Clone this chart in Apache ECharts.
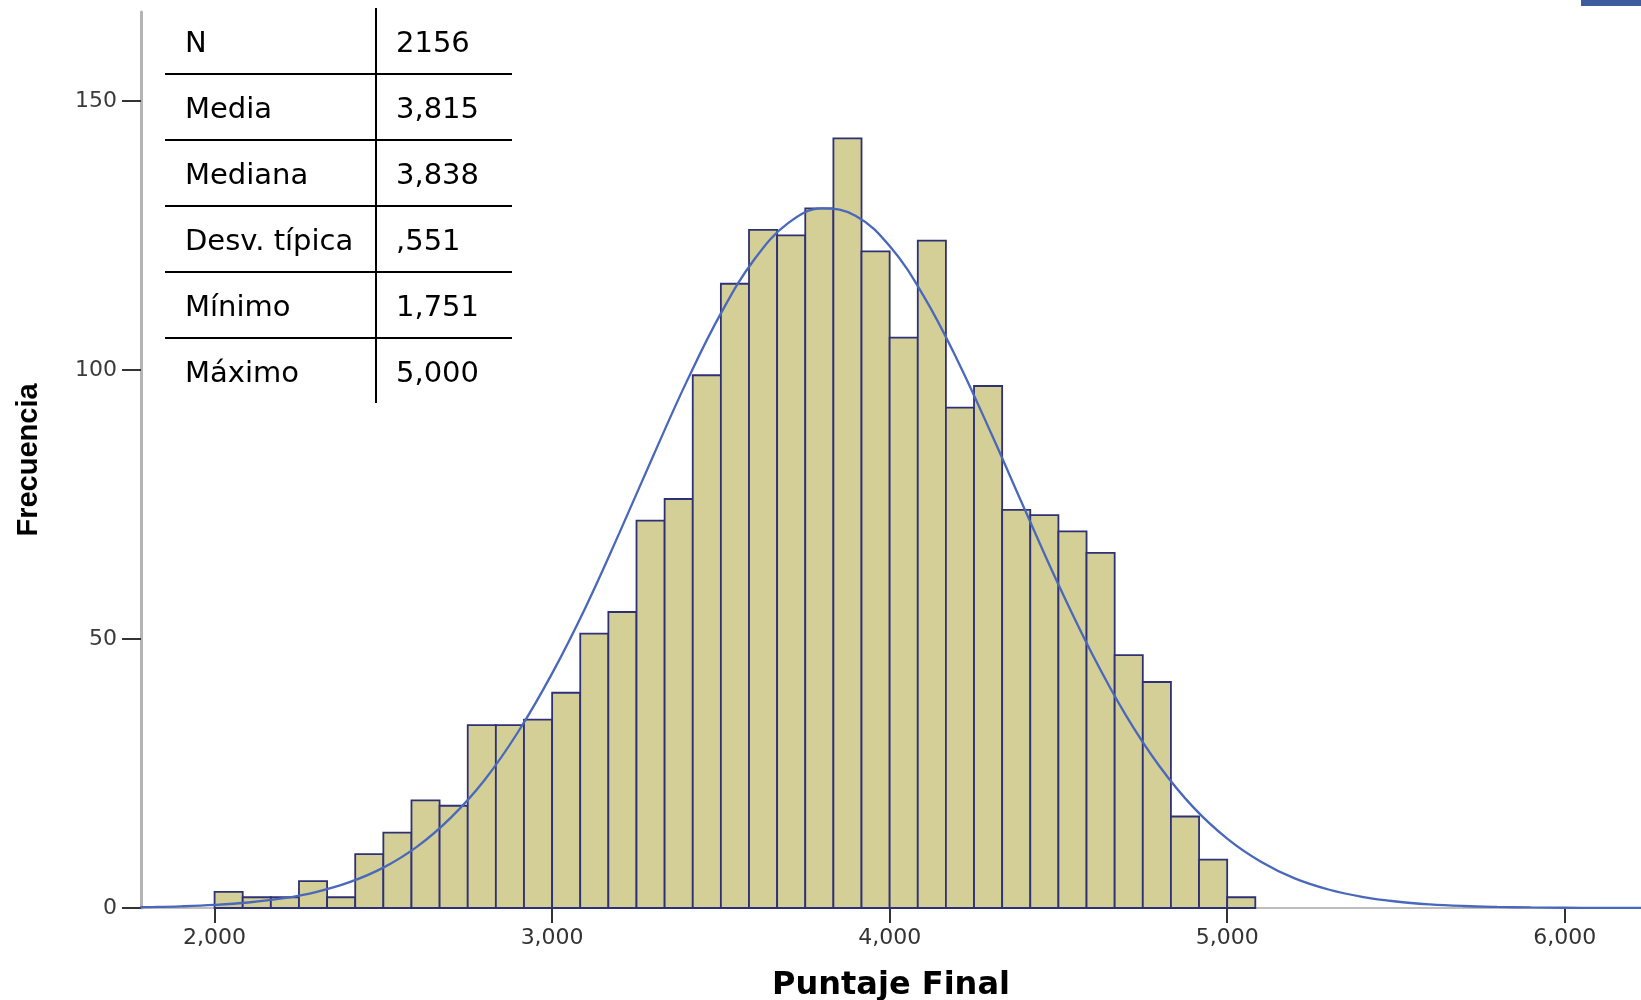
<!DOCTYPE html>
<html><head><meta charset="utf-8">
<script src="https://cdn.jsdelivr.net/npm/echarts@6/dist/echarts.min.js"></script>
<style>html,body{margin:0;padding:0;background:#fff}#c{width:1641px;height:1000px}</style>
</head><body><div id="c"></div>
<script>
// Histogram bins (start, width) and frequencies
const binStart = 2.0;
const binWidth = 1 / 12;
const counts = [3,2,2,5,2,10,14,20,19,34,34,35,40,51,55,72,76,99,116,126,125,130,143,122,106,124,93,97,74,73,70,66,47,42,17,9,2];

// Normal curve points
const curveX = [1.78,1.8,1.9,2.0,2.1,2.2,2.3,2.4,2.5,2.6,2.7,2.8,2.9,3.0,3.1,3.2,3.3,3.4,3.5,3.6,3.7,3.8,3.9,4.0,4.1,4.2,4.3,4.4,4.5,4.6,4.7,4.8,4.9,5.0,5.1,5.2,5.3,5.4,5.5,5.6,5.7,5.8,5.9,6.0,6.1,6.23];
const curveY = [0.14,0.16,0.31,0.57,1.02,1.77,2.97,4.8,7.5,11.4,16.8,23.8,32.8,43.6,56.0,69.8,84.1,98.0,110.5,120.6,127.3,130.0,128.6,123.0,113.8,101.9,88.3,74.1,60.1,47.2,35.8,26.3,18.7,12.9,8.6,5.5,3.44,2.08,1.21,0.68,0.37,0.20,0.10,0.05,0.02,0.01];

const xTickValues = [2,3,4,5,6];
const xTickLabels = ['2,000','3,000','4,000','5,000','6,000'];
const yTickValues = [0,50,100,150];
const yTickLabels = ['0','50','100','150'];

const statNames = ['N','Media','Mediana','Desv. típica','Mínimo','Máximo'];
const statValues = ['2156','3,815','3,838',',551','1,751','5,000'];

const chart = echarts.init(document.getElementById('c'), null, {renderer:'canvas'});

const histData = counts.map((c, i) => [binStart + i * binWidth, binStart + (i + 1) * binWidth, c]);
const curveData = curveX.map((x, i) => [x, curveY[i]]);

// table graphics
const tbl = [];
const rowTop = 8, rowH = 66, nRows = statNames.length;
const tLeft = 165, tMid = 376, tRight = 512;
for (let i = 1; i < nRows; i++) {
  tbl.push({type:'line', shape:{x1:tLeft, y1:rowTop + i*rowH, x2:tRight, y2:rowTop + i*rowH}, style:{stroke:'#000', lineWidth:2}, z:100});
}
tbl.push({type:'line', shape:{x1:tMid, y1:rowTop, x2:tMid, y2:rowTop + nRows*rowH - 1}, style:{stroke:'#000', lineWidth:2}, z:100});
statNames.forEach((n, i) => {
  const yc = rowTop + i*rowH + 36;
  tbl.push({type:'text', x:185, y:yc, style:{text:n, font:'29px "DejaVu Sans"', fill:'#000', textVerticalAlign:'middle', textAlign:'left'}, z:100});
  tbl.push({type:'text', x:396, y:yc, style:{text:statValues[i], font:'29px "DejaVu Sans"', fill:'#000', textVerticalAlign:'middle', textAlign:'left'}, z:100});
});
tbl.push({type:'rect', shape:{x:1581, y:0, width:60, height:6}, style:{fill:'#3d5c9e'}, z:100});

chart.setOption({
  backgroundColor:'#fff',
  animation:false,
  grid:{left:141, right:0, top:12, bottom:92, containLabel:false, outerBoundsMode:'none'},
  xAxis:{
    type:'value', min:1.782, max:6.226,
    axisLine:{show:true, lineStyle:{color:'#a8a8a8', width:1.5}},
    axisTick:{show:true, customValues:xTickValues, length:15, lineStyle:{color:'#333', width:2}},
    axisLabel:{show:true, customValues:xTickValues, margin:19, color:'#333', fontFamily:'DejaVu Sans', fontSize:22,
      formatter:(v)=>{const k = xTickValues.findIndex(t=>Math.abs(t-v)<1e-6); return k>=0?xTickLabels[k]:'';}},
    splitLine:{show:false},
    name:'Puntaje Final', nameLocation:'middle', nameGap:62,
    nameTextStyle:{fontFamily:'DejaVu Sans', fontWeight:'bold', fontSize:32, color:'#000'}
  },
  yAxis:{
    type:'value', min:0, max:166.5,
    axisLine:{show:true, lineStyle:{color:'#b4b4b4', width:3}},
    axisTick:{show:true, customValues:yTickValues, length:19, lineStyle:{color:'#333', width:2}},
    axisLabel:{show:true, customValues:yTickValues, margin:24, color:'#3a3a3a', fontFamily:'DejaVu Sans', fontSize:22,
      formatter:(v)=>{const k = yTickValues.findIndex(t=>Math.abs(t-v)<1e-6); return k>=0?yTickLabels[k]:'';}},
    splitLine:{show:false},
    name:'Frecuencia', nameLocation:'middle', nameGap:98, nameRotate:90,
    nameTextStyle:{fontFamily:'Liberation Sans', fontWeight:'bold', fontSize:29, color:'#000'}
  },
  series:[
    {
      type:'custom',
      data:histData,
      encode:{x:[0,1], y:2},
      z:2,
      renderItem:(params, api)=>{
        const p0 = api.coord([api.value(0), api.value(2)]);
        const p1 = api.coord([api.value(1), 0]);
        return {type:'rect', shape:{x:p0[0], y:p0[1], width:p1[0]-p0[0], height:p1[1]-p0[1]},
          style:{fill:'#d4cf96', stroke:'#2f3176', lineWidth:1.8}};
      }
    },
    {
      type:'line', data:curveData, smooth:0.4, showSymbol:false, symbol:'none', z:5,
      lineStyle:{color:'#4a68bb', width:2.3}
    }
  ],
  graphic:tbl
});
</script>
</body></html>
